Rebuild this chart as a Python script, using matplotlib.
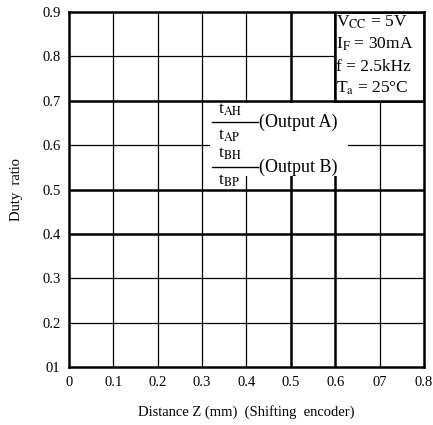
import matplotlib
import matplotlib.pyplot as plt
from matplotlib.patches import Rectangle

matplotlib.use("agg")
plt.rcParams["font.family"] = ["Liberation Serif", "DejaVu Serif"]
plt.rcParams["mathtext.fontset"] = "stix"

x_ticks = [0, 0.1, 0.2, 0.3, 0.4, 0.5, 0.6, 0.7, 0.8]
x_labels = ["0", "0.1", "0.2", "0.3", "0.4", "0.5", "0.6", "07", "0.8"]
y_ticks = [0.1, 0.2, 0.3, 0.4, 0.5, 0.6, 0.7, 0.8, 0.9]
y_labels = ["01", "0.2", "0.3", "0.4", "0.5", "0.6", "0.7", "0.8", "0.9"]
thick_y = [0.4, 0.5, 0.7]
thick_x = [0.5, 0.6]
conditions = [
    r"V$_{\mathrm{CC}}$ = 5V",
    r"I$_{\mathrm{F}}$ = 30mA",
    "f = 2.5kHz",
    r"T$_{\mathrm{a}}$ = 25°C",
]
outputs = [
    ("AH", "AP", "(Output A)"),
    ("BH", "BP", "(Output B)"),
]

fig = plt.figure(figsize=(4.33, 4.25), dpi=100)
ax = fig.add_axes([0.159, 0.136, 0.820, 0.836])
ax.set_xlim(0, 0.8)
ax.set_ylim(0.1, 0.9)

# grid
for x in x_ticks[1:-1]:
    ax.axvline(x, color="black", lw=1.8 if x in thick_x else 0.9, zorder=1)
for y in y_ticks[1:-1]:
    ax.axhline(y, color="black", lw=1.8 if y in thick_y else 0.9, zorder=1)

# conditions box
ax.add_patch(Rectangle((0.6, 0.7), 0.2, 0.2, facecolor="white",
                       edgecolor="black", lw=1.8, zorder=2))
for i, line in enumerate(conditions):
    ax.text(0.603, 0.876 - i * 0.0495, line, fontsize=12.5, va="center",
            ha="left", zorder=3)

# output labels, drawn as stacked fractions
ax.add_patch(Rectangle((0.318, 0.53), 0.31, 0.165, facecolor="white",
                       edgecolor="none", zorder=2))
for i, (num, den, name) in enumerate(outputs):
    yy = 0.652 - i * 0.101
    ax.text(0.335, yy + 0.010, r"t$_{\mathrm{%s}}$" % num, fontsize=12.5,
            va="bottom", ha="left", zorder=3)
    ax.plot([0.322, 0.426], [yy, yy], color="black", lw=1.0, zorder=3)
    ax.text(0.335, yy - 0.012, r"t$_{\mathrm{%s}}$" % den, fontsize=12.5,
            va="top", ha="left", zorder=3)
    ax.text(0.428, yy, name, fontsize=13, va="center", ha="left", zorder=3)

ax.set_xticks(x_ticks, x_labels, fontsize=10.5)
ax.set_yticks(y_ticks, y_labels, fontsize=10.5)
ax.tick_params(length=0, pad=6)
for s in ax.spines.values():
    s.set_linewidth(1.8)
    s.set_zorder(4)

ax.set_xlabel("Distance Z (mm)  (Shifting  encoder)", fontsize=10.5,
              labelpad=12)
ax.set_ylabel("Duty  ratio", fontsize=10.5, labelpad=14)

fig.savefig("out.png", dpi=100)
